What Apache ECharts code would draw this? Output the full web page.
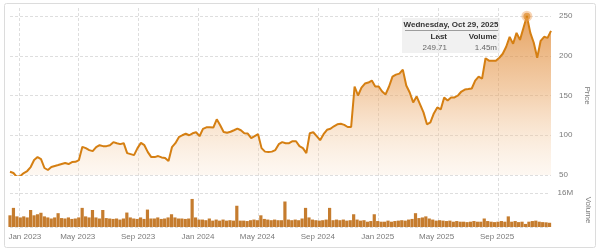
<!DOCTYPE html>
<html><head><meta charset="utf-8">
<script src="https://cdn.jsdelivr.net/npm/echarts@6/dist/echarts.min.js"></script>
<style>html,body{margin:0;padding:0;background:#fff}#c{width:600px;height:251px}</style>
</head><body><div id="c"></div>
<script>
// Weekly closing prices (Wednesdays, starting 2022-12-14)
const startDate = [2022, 11, 14];
const prices = [
54.1,52.5,47.5,48.8,52.5,55,60,68.8,72.5,70,
58.8,56.3,60,61.3,62.5,63.8,65,63.8,66.3,66.6,
68.8,85.4,83.8,81.3,80,85,87.5,86.3,86.3,87.5,
91.3,90,88.8,90,77.5,76.3,75,83.8,90.4,87.5,
78.8,72.5,72.5,73.8,72.1,71.3,67.5,85,90,97.5,
100,101.9,100,102.5,103.8,98.8,108.1,110,110,109.6,
120,112.5,104.1,103.1,104.4,106.3,108.4,106.3,102.5,102.1,
96.3,98.8,101.3,83.8,79.4,78.8,79.4,81.3,88.8,91.3,
90,90,92.5,92.5,86.3,83.8,77.5,102.5,103.8,98.8,
93.8,101.3,106.9,108.1,111.3,113.8,114.4,113.1,110.4,110.4,
161.3,150,160,165,166.3,168.8,161.3,161.3,155,151.3,
161.3,173.8,176.3,177.5,182.5,162.5,153.8,141.3,148.8,138.8,
128.8,113.8,116.3,127.5,135,132.5,147.5,143.8,147.5,147.5,
150,155,157.5,158.1,158.8,168.8,173.8,171.3,196.9,193.8,
193.8,193.8,197.5,202.5,211.3,223.8,215,228.8,220,235,
249.71,228.8,216.3,197.5,218.8,223.8,222.5,231.3
];
// Volume (millions)
const volumes = [
5.5,9,5,4.5,5,4.5,8,5.5,6,6.7,
5,4.5,4,4.5,6.5,4.2,4,4.5,3.8,4,
4.5,9,5,4.5,8,4.5,4,8,4.2,4,
3.8,4,3.5,4,6.8,4.5,4,3.8,4.5,3.8,
8.2,4,4,4.5,3.8,4,4.5,6,4.5,4,
4,3.8,4,13.2,4.5,3.5,3.5,3.2,4,3,
3.5,3,3.5,3,3.2,3,10,3,3,2.8,
3.2,3.5,3.2,5.5,3.8,3.5,3.2,3.5,3.2,3.2,
12,3.5,3.2,3.5,3.2,4,9,4.5,3.5,3.2,
3,3.2,3.5,9,3.2,3.5,3.2,3.5,3,3.2,
6,3.5,3,3.2,2.5,2.8,6,2.8,2.5,2.5,
3,2.5,2.8,3,3.2,3,3.5,3.8,6.5,4.2,
4.5,5,4,3.5,3,3.2,3,2.8,3,2.5,
2.8,2.5,2.5,2.3,2.5,2.8,2.5,2.5,4,2.8,
2.5,2.3,2.5,2.8,2.5,5,2.5,2.8,2.3,2.5,
1.45,2.5,2.8,3,2.5,2.3,2.2,2
];
const tickDates = ['2023-01-01','2023-05-01','2023-09-01','2024-01-01','2024-05-01','2024-09-01','2025-01-01','2025-05-01','2025-09-01'];
const axisStart = '2022-12-14', axisEnd = '2025-12-17';
const priceTicks = [50, 100, 150, 200, 250];
const volumeMax = 16;

const MONTHS = ['Jan','Feb','Mar','Apr','May','Jun','Jul','Aug','Sep','Oct','Nov','Dec'];
const DAYS = ['Sunday','Monday','Tuesday','Wednesday','Thursday','Friday','Saturday'];
function ts(s){ const p = s.split('-').map(Number); return new Date(p[0], p[1]-1, p[2]).getTime(); }
const dates = prices.map((_, i) => new Date(startDate[0], startDate[1], startDate[2] + 7*i).getTime());
const priceData = prices.map((v, i) => [dates[i], v]);
const volData = volumes.map((v, i) => [dates[i], v*1e6]);
const tickTs = tickDates.map(ts);
let peakIdx = 0; prices.forEach((v,i)=>{ if (v > prices[peakIdx]) peakIdx = i; });
const pd = new Date(dates[peakIdx]);
const tipTitle = DAYS[pd.getDay()] + ', ' + MONTHS[pd.getMonth()] + ' ' + pd.getDate() + ', ' + pd.getFullYear();
const tipLast = prices[peakIdx].toFixed(2);
const tipVol = volumes[peakIdx].toFixed(2) + 'm';

const FONT = 'Liberation Sans, Arial, sans-serif';
const gridLine = {show: true, lineStyle: {color: '#dedede', type: [3, 2], width: 1}};
const xMin = ts(axisStart), xMax = ts(axisEnd);

const chart = echarts.init(document.getElementById('c'), null, {renderer: 'canvas'});
chart.setOption({
  animation: false,
  backgroundColor: '#fff',
  textStyle: {fontFamily: FONT},
  grid: [
    {left: 10, right: 49, top: 8, bottom: 22},
    {left: 10, right: 49, top: 16, height: 159},
    {left: 10, right: 49, top: 193, height: 34}
  ],
  xAxis: [
    {type: 'value', gridIndex: 0, min: xMin, max: xMax, axisLine: {show: false},
     axisTick: {show: false, customValues: tickTs}, axisLabel: {show: false, customValues: tickTs},
     splitLine: gridLine},
    {type: 'value', gridIndex: 1, min: xMin, max: xMax, show: false, splitLine: {show: false}},
    {type: 'value', gridIndex: 2, min: xMin, max: xMax, axisLine: {show: false},
     axisTick: {show: false, customValues: tickTs}, splitLine: {show: false},
     axisLabel: {customValues: tickTs, color: '#7a7a7a', fontSize: 8, margin: 6, fontFamily: FONT,
       formatter: function (v) {
         const d = new Date(v);
         const t = MONTHS[d.getMonth()] + ' ' + d.getFullYear();
         return v === tickTs[0] ? '{f|' + t + '}' : t;
       },
       rich: {f: {padding: [0, 0, 0, 12], color: '#7a7a7a', fontSize: 8, fontFamily: FONT}}
     }}
  ],
  yAxis: [
    {type: 'value', gridIndex: 0, show: false, splitLine: {show: false}},
    {type: 'value', gridIndex: 1, position: 'right', min: priceTicks[0], max: priceTicks[priceTicks.length-1], interval: 50,
     axisLine: {show: false}, axisTick: {show: false}, splitLine: gridLine,
     axisLabel: {color: '#7a7a7a', fontSize: 8, margin: 8, fontFamily: FONT},
     name: 'Price', nameLocation: 'middle', nameRotate: -90, nameGap: 25,
     nameTextStyle: {color: '#7a7a7a', fontSize: 8, fontFamily: FONT}},
    {type: 'value', gridIndex: 2, position: 'right', min: 0, max: volumeMax*1e6, interval: volumeMax*1e6,
     axisLine: {show: false}, axisTick: {show: false}, splitLine: gridLine,
     axisLabel: {color: '#7a7a7a', fontSize: 8, margin: 8, fontFamily: FONT, showMinLabel: false,
       formatter: v => v === 0 ? '' : (v/1e6) + 'M'},
     name: 'Volume', nameLocation: 'middle', nameRotate: -90, nameGap: 25,
     nameTextStyle: {color: '#7a7a7a', fontSize: 8, fontFamily: FONT}}
  ],
  series: [
    {type: 'line', xAxisIndex: 1, yAxisIndex: 1, data: priceData, symbol: 'none', smooth: false,
     lineStyle: {color: '#d57f12', width: 2},
     areaStyle: {origin: 'start', color: new echarts.graphic.LinearGradient(0, 0, 0, 1, [
       {offset: 0, color: 'rgba(218,122,28,1)'},
       {offset: 0.45, color: 'rgba(232,160,90,0.75)'},
       {offset: 1, color: 'rgba(250,228,205,0.35)'}
     ])}},
    {type: 'scatter', xAxisIndex: 1, yAxisIndex: 1, data: [priceData[peakIdx]], symbolSize: 7,
     itemStyle: {color: '#d57f12', borderColor: 'rgba(240,168,100,0.6)', borderWidth: 4}, z: 5},
    {type: 'bar', xAxisIndex: 2, yAxisIndex: 2, data: volData, barWidth: 3.2,
     itemStyle: {color: '#c57c2e'}}
  ],
  graphic: [
    {type: 'rect', shape: {x: 4.5, y: 3.5, width: 591, height: 244, r: 2}, silent: true, z: -10,
     style: {fill: 'none', stroke: '#dcdcdc', lineWidth: 1}},
    {type: 'group', left: 402, top: 18, z: 100, children: [
      {type: 'rect', shape: {x: 0, y: 0, width: 98, height: 35}, style: {fill: 'rgba(238,238,238,0.85)'}},
      {type: 'text', x: 49, y: 3, style: {text: tipTitle, fill: '#333', font: 'bold 8px ' + FONT, textAlign: 'center'}},
      {type: 'line', shape: {x1: 3, y1: 12.5, x2: 96, y2: 12.5}, style: {stroke: '#888', lineWidth: 0.8}},
      {type: 'text', x: 45, y: 15, style: {text: 'Last', fill: '#333', font: 'bold 8px ' + FONT, textAlign: 'right'}},
      {type: 'text', x: 95, y: 15, style: {text: 'Volume', fill: '#333', font: 'bold 8px ' + FONT, textAlign: 'right'}},
      {type: 'text', x: 45, y: 25.5, style: {text: tipLast, fill: '#666', font: '8px ' + FONT, textAlign: 'right'}},
      {type: 'text', x: 95, y: 25.5, style: {text: tipVol, fill: '#666', font: '8px ' + FONT, textAlign: 'right'}}
    ]}
  ]
});
</script></body></html>
